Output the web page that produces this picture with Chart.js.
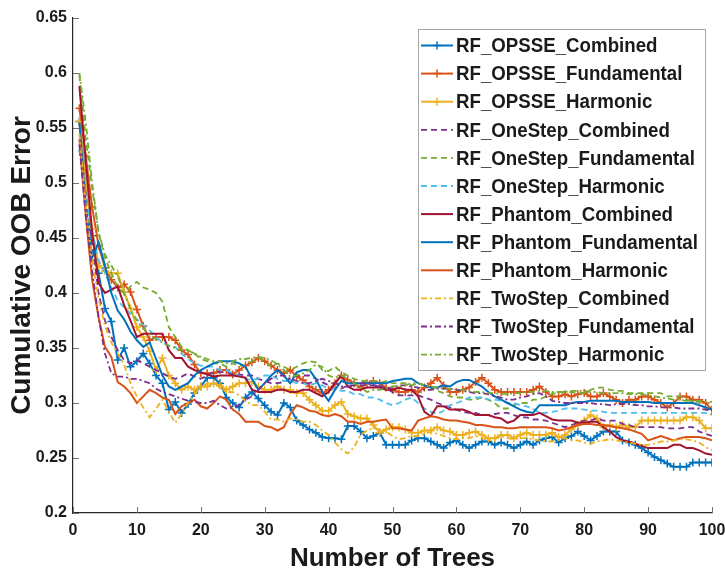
<!DOCTYPE html>
<html>
<head>
<meta charset="utf-8">
<script src="https://cdn.jsdelivr.net/npm/chart.js@4.4.0/dist/chart.umd.min.js"></script>
<style>
  html, body { margin: 0; padding: 0; background: #fff; }
  canvas { display: block; }
</style>
</head>
<body>
<canvas id="oobChart" width="725" height="574"></canvas>
<script>
// x positions: number of trees 1..100
const trees = [];
for (let i = 1; i <= 100; i++) trees.push(i);

const xTicks = [0, 10, 20, 30, 40, 50, 60, 70, 80, 90, 100];
const yTicks = [0.2, 0.25, 0.3, 0.35, 0.4, 0.45, 0.5, 0.55, 0.6, 0.65];

const seriesNames = [
    'RF_OPSSE_Combined', 'RF_OPSSE_Fundamental', 'RF_OPSSE_Harmonic',
    'RF_OneStep_Combined', 'RF_OneStep_Fundamental', 'RF_OneStep_Harmonic',
    'RF_Phantom_Combined', 'RF_Phantom_Fundamental', 'RF_Phantom_Harmonic',
    'RF_TwoStep_Combined', 'RF_TwoStep_Fundamental', 'RF_TwoStep_Harmonic'
];

// values (cumulative OOB error per tree)
const opsseCombined = [
    0.556, 0.505, 0.452, 0.418, 0.386, 0.374, 0.339, 0.350, 0.333, 0.338,
    0.345, 0.336, 0.325, 0.318, 0.294, 0.301, 0.291, 0.299, 0.309, 0.315,
    0.323, 0.323, 0.318, 0.305, 0.300, 0.296, 0.305, 0.310, 0.304, 0.298,
    0.292, 0.289, 0.300, 0.296, 0.284, 0.280, 0.276, 0.273, 0.269, 0.268,
    0.268, 0.267, 0.279, 0.279, 0.274, 0.268, 0.270, 0.273, 0.262, 0.262,
    0.262, 0.262, 0.266, 0.268, 0.268, 0.265, 0.262, 0.259, 0.264, 0.266,
    0.262, 0.259, 0.262, 0.265, 0.265, 0.262, 0.264, 0.262, 0.259, 0.262,
    0.265, 0.262, 0.266, 0.268, 0.269, 0.264, 0.268, 0.270, 0.274, 0.270,
    0.266, 0.270, 0.274, 0.274, 0.274, 0.266, 0.264, 0.262, 0.259, 0.255,
    0.251, 0.248, 0.245, 0.242, 0.242, 0.242, 0.246, 0.246, 0.246, 0.246
];
const opsseFundamental = [
    0.568, 0.524, 0.478, 0.443, 0.423, 0.412, 0.405, 0.408, 0.401, 0.385,
    0.370, 0.357, 0.360, 0.360, 0.360, 0.357, 0.348, 0.344, 0.335, 0.327,
    0.327, 0.327, 0.330, 0.330, 0.326, 0.330, 0.334, 0.337, 0.341, 0.338,
    0.334, 0.330, 0.327, 0.330, 0.324, 0.321, 0.315, 0.312, 0.309, 0.312,
    0.318, 0.325, 0.321, 0.318, 0.314, 0.318, 0.320, 0.318, 0.314, 0.312,
    0.310, 0.310, 0.312, 0.310, 0.314, 0.318, 0.323, 0.316, 0.310, 0.310,
    0.312, 0.314, 0.319, 0.323, 0.318, 0.312, 0.310, 0.310, 0.310, 0.310,
    0.310, 0.312, 0.315, 0.310, 0.306, 0.306, 0.308, 0.306, 0.308, 0.309,
    0.306, 0.306, 0.309, 0.306, 0.303, 0.300, 0.303, 0.303, 0.306, 0.306,
    0.303, 0.300, 0.296, 0.300, 0.306, 0.306, 0.303, 0.303, 0.300, 0.294
];
const opsseHarmonic = [
    0.556, 0.500, 0.458, 0.425, 0.420, 0.418, 0.418, 0.401, 0.386, 0.369,
    0.360, 0.347, 0.330, 0.341, 0.325, 0.318, 0.312, 0.315, 0.312, 0.315,
    0.315, 0.318, 0.316, 0.312, 0.315, 0.318, 0.318, 0.319, 0.315, 0.312,
    0.312, 0.315, 0.312, 0.312, 0.309, 0.309, 0.303, 0.298, 0.293, 0.293,
    0.298, 0.301, 0.290, 0.288, 0.286, 0.286, 0.280, 0.273, 0.276, 0.278,
    0.278, 0.276, 0.273, 0.273, 0.275, 0.275, 0.278, 0.275, 0.274, 0.271,
    0.271, 0.273, 0.274, 0.271, 0.268, 0.268, 0.271, 0.271, 0.268, 0.271,
    0.273, 0.271, 0.271, 0.271, 0.273, 0.269, 0.271, 0.276, 0.280, 0.284,
    0.289, 0.286, 0.278, 0.280, 0.278, 0.280, 0.278, 0.278, 0.284, 0.284,
    0.284, 0.284, 0.284, 0.284, 0.284, 0.287, 0.287, 0.284, 0.277, 0.277
];
const oneStepCombined = [
    0.530, 0.490, 0.445, 0.400, 0.375, 0.360, 0.348, 0.339, 0.336, 0.339,
    0.336, 0.333, 0.330, 0.327, 0.324, 0.322, 0.324, 0.327, 0.324, 0.322,
    0.325, 0.328, 0.328, 0.328, 0.326, 0.326, 0.325, 0.325, 0.322, 0.320,
    0.318, 0.318, 0.319, 0.322, 0.325, 0.325, 0.325, 0.322, 0.319, 0.316,
    0.313, 0.313, 0.316, 0.316, 0.316, 0.316, 0.316, 0.316, 0.313, 0.310,
    0.307, 0.307, 0.307, 0.307, 0.305, 0.303, 0.300, 0.298, 0.296, 0.294,
    0.292, 0.291, 0.291, 0.289, 0.289, 0.290, 0.291, 0.291, 0.289, 0.287,
    0.287, 0.285, 0.285, 0.284, 0.282, 0.280, 0.278, 0.280, 0.282, 0.284,
    0.284, 0.286, 0.284, 0.284, 0.284, 0.281, 0.280, 0.278, 0.278, 0.278,
    0.278, 0.278, 0.277, 0.277, 0.277, 0.278, 0.278, 0.274, 0.272, 0.270
];
const oneStepFundamental = [
    0.598, 0.540, 0.495, 0.455, 0.432, 0.418, 0.405, 0.400, 0.406, 0.410,
    0.405, 0.403, 0.400, 0.392, 0.369, 0.360, 0.351, 0.348, 0.345, 0.340,
    0.338, 0.336, 0.336, 0.333, 0.336, 0.334, 0.334, 0.338, 0.341, 0.338,
    0.333, 0.336, 0.333, 0.330, 0.333, 0.336, 0.338, 0.337, 0.330, 0.329,
    0.333, 0.328, 0.325, 0.322, 0.320, 0.320, 0.320, 0.318, 0.320, 0.318,
    0.318, 0.318, 0.316, 0.318, 0.316, 0.314, 0.311, 0.309, 0.306, 0.305,
    0.305, 0.303, 0.303, 0.305, 0.303, 0.300, 0.295, 0.295, 0.298, 0.300,
    0.300, 0.303, 0.303, 0.306, 0.308, 0.310, 0.310, 0.310, 0.309, 0.309,
    0.312, 0.314, 0.314, 0.312, 0.311, 0.311, 0.309, 0.309, 0.309, 0.309,
    0.309, 0.309, 0.306, 0.306, 0.306, 0.303, 0.301, 0.301, 0.295, 0.289
];
const oneStepHarmonic = [
    0.530, 0.488, 0.455, 0.430, 0.418, 0.405, 0.393, 0.387, 0.381, 0.376,
    0.371, 0.366, 0.360, 0.355, 0.352, 0.351, 0.345, 0.340, 0.336, 0.334,
    0.333, 0.333, 0.330, 0.330, 0.327, 0.325, 0.322, 0.321, 0.322, 0.325,
    0.325, 0.322, 0.320, 0.320, 0.318, 0.318, 0.316, 0.318, 0.316, 0.313,
    0.313, 0.311, 0.311, 0.308, 0.308, 0.305, 0.305, 0.303, 0.300, 0.298,
    0.300, 0.303, 0.305, 0.300, 0.295, 0.292, 0.290, 0.293, 0.298, 0.300,
    0.302, 0.305, 0.305, 0.305, 0.303, 0.303, 0.302, 0.300, 0.300, 0.298,
    0.297, 0.295, 0.291, 0.291, 0.292, 0.293, 0.295, 0.295, 0.295, 0.294,
    0.293, 0.293, 0.292, 0.291, 0.291, 0.291, 0.291, 0.291, 0.291, 0.291,
    0.291, 0.291, 0.291, 0.291, 0.291, 0.291, 0.291, 0.291, 0.291, 0.291
];
const phantomCombined = [
    0.588, 0.520, 0.455, 0.409, 0.400, 0.403, 0.406, 0.389, 0.375, 0.360,
    0.363, 0.363, 0.363, 0.363, 0.348, 0.341, 0.341, 0.333, 0.330, 0.328,
    0.326, 0.324, 0.325, 0.325, 0.325, 0.324, 0.323, 0.312, 0.310, 0.310,
    0.310, 0.312, 0.312, 0.310, 0.310, 0.312, 0.312, 0.309, 0.306, 0.310,
    0.318, 0.325, 0.315, 0.312, 0.312, 0.314, 0.314, 0.314, 0.312, 0.312,
    0.314, 0.312, 0.312, 0.306, 0.292, 0.288, 0.297, 0.297, 0.294, 0.294,
    0.294, 0.292, 0.289, 0.289, 0.289, 0.287, 0.286, 0.282, 0.284, 0.289,
    0.289, 0.289, 0.291, 0.288, 0.285, 0.284, 0.284, 0.284, 0.282, 0.282,
    0.283, 0.283, 0.278, 0.274, 0.269, 0.266, 0.265, 0.263, 0.261, 0.259,
    0.259, 0.259, 0.259, 0.262, 0.262, 0.259, 0.259, 0.257, 0.254, 0.253
];
const phantomFundamental = [
    0.555, 0.480, 0.432, 0.446, 0.425, 0.400, 0.384, 0.376, 0.365, 0.357,
    0.351, 0.355, 0.340, 0.325, 0.315, 0.312, 0.315, 0.318, 0.325, 0.330,
    0.333, 0.336, 0.338, 0.338, 0.338, 0.336, 0.333, 0.322, 0.312, 0.318,
    0.325, 0.330, 0.325, 0.318, 0.328, 0.330, 0.330, 0.322, 0.310, 0.302,
    0.312, 0.320, 0.318, 0.318, 0.318, 0.318, 0.318, 0.318, 0.318, 0.320,
    0.321, 0.322, 0.322, 0.318, 0.316, 0.314, 0.314, 0.316, 0.315, 0.319,
    0.321, 0.321, 0.318, 0.315, 0.310, 0.306, 0.303, 0.300, 0.297, 0.294,
    0.292, 0.291, 0.298, 0.298, 0.298, 0.298, 0.298, 0.300, 0.301, 0.301,
    0.302, 0.302, 0.302, 0.302, 0.302, 0.301, 0.301, 0.301, 0.301, 0.301,
    0.300, 0.300, 0.300, 0.300, 0.300, 0.300, 0.300, 0.298, 0.296, 0.294
];
const phantomHarmonic = [
    0.540, 0.470, 0.412, 0.378, 0.351, 0.342, 0.319, 0.315, 0.309, 0.300,
    0.306, 0.312, 0.309, 0.305, 0.303, 0.290, 0.297, 0.300, 0.303, 0.297,
    0.295, 0.300, 0.306, 0.303, 0.294, 0.290, 0.283, 0.283, 0.283, 0.279,
    0.278, 0.275, 0.278, 0.290, 0.298, 0.296, 0.293, 0.292, 0.289, 0.288,
    0.290, 0.288, 0.283, 0.283, 0.281, 0.283, 0.283, 0.284, 0.285, 0.277,
    0.277, 0.276, 0.275, 0.284, 0.286, 0.288, 0.287, 0.285, 0.284, 0.284,
    0.283, 0.282, 0.280, 0.280, 0.279, 0.278, 0.278, 0.277, 0.277, 0.278,
    0.278, 0.278, 0.278, 0.278, 0.277, 0.275, 0.276, 0.278, 0.280, 0.281,
    0.281, 0.280, 0.280, 0.279, 0.278, 0.277, 0.276, 0.274, 0.272, 0.266,
    0.268, 0.270, 0.268, 0.266, 0.268, 0.269, 0.269, 0.269, 0.268, 0.266
];
const twoStepCombined = [
    0.545, 0.480, 0.430, 0.395, 0.370, 0.355, 0.345, 0.335, 0.318, 0.306,
    0.296, 0.287, 0.295, 0.303, 0.292, 0.282, 0.290, 0.300, 0.308, 0.314,
    0.318, 0.318, 0.314, 0.310, 0.310, 0.307, 0.302, 0.298, 0.298, 0.292,
    0.285, 0.285, 0.283, 0.286, 0.285, 0.283, 0.283, 0.280, 0.275, 0.271,
    0.264, 0.258, 0.254, 0.260, 0.271, 0.275, 0.277, 0.276, 0.274, 0.270,
    0.267, 0.268, 0.270, 0.270, 0.272, 0.274, 0.272, 0.270, 0.268, 0.267,
    0.268, 0.268, 0.270, 0.268, 0.266, 0.267, 0.270, 0.268, 0.267, 0.268,
    0.268, 0.267, 0.266, 0.265, 0.265, 0.267, 0.268, 0.266, 0.266, 0.264,
    0.263, 0.265, 0.266, 0.267, 0.266, 0.265, 0.264, 0.263, 0.262, 0.262,
    0.263, 0.265, 0.265, 0.266, 0.267, 0.267, 0.266, 0.264, 0.260, 0.257
];
const twoStepFundamental = [
    0.535, 0.470, 0.420, 0.378, 0.345, 0.327, 0.324, 0.324, 0.322, 0.322,
    0.320, 0.318, 0.313, 0.310, 0.308, 0.306, 0.304, 0.302, 0.301, 0.300,
    0.300, 0.302, 0.298, 0.295, 0.296, 0.298, 0.303, 0.306, 0.312, 0.318,
    0.322, 0.325, 0.325, 0.322, 0.320, 0.318, 0.318, 0.320, 0.322, 0.320,
    0.318, 0.315, 0.315, 0.316, 0.318, 0.318, 0.316, 0.315, 0.313, 0.314,
    0.316, 0.316, 0.315, 0.314, 0.312, 0.312, 0.313, 0.313, 0.313, 0.312,
    0.311, 0.310, 0.309, 0.309, 0.308, 0.306, 0.305, 0.303, 0.303, 0.305,
    0.306, 0.308, 0.309, 0.306, 0.302, 0.301, 0.300, 0.300, 0.300, 0.300,
    0.300, 0.299, 0.299, 0.298, 0.299, 0.299, 0.299, 0.298, 0.298, 0.297,
    0.297, 0.296, 0.296, 0.296, 0.295, 0.295, 0.295, 0.295, 0.294, 0.293
];
const twoStepHarmonic = [
    0.600, 0.555, 0.500, 0.455, 0.435, 0.425, 0.415, 0.400, 0.385, 0.375,
    0.368, 0.362, 0.358, 0.355, 0.352, 0.350, 0.348, 0.348, 0.345, 0.342,
    0.340, 0.338, 0.338, 0.336, 0.338, 0.340, 0.340, 0.341, 0.342, 0.341,
    0.339, 0.335, 0.330, 0.324, 0.325, 0.327, 0.330, 0.335, 0.333, 0.325,
    0.323, 0.325, 0.322, 0.318, 0.314, 0.310, 0.312, 0.312, 0.313, 0.315,
    0.315, 0.316, 0.318, 0.318, 0.316, 0.315, 0.314, 0.313, 0.313, 0.312,
    0.312, 0.311, 0.310, 0.310, 0.309, 0.309, 0.308, 0.308, 0.309, 0.309,
    0.310, 0.310, 0.311, 0.311, 0.310, 0.310, 0.310, 0.311, 0.311, 0.311,
    0.310, 0.310, 0.309, 0.309, 0.309, 0.309, 0.308, 0.308, 0.308, 0.307,
    0.306, 0.305, 0.304, 0.303, 0.303, 0.302, 0.302, 0.302, 0.301, 0.301
];

const FONT = "'Liberation Sans', Arial, Helvetica, sans-serif";
const TEXT = '#1a1a1a';

// MATLAB default line colours
const colors = {
    blue: '#0072BD',
    orange: '#D95319',
    yellow: '#EDB120',
    purple: '#7E2F8E',
    green: '#77AC30',
    cyan: '#4DBEEE',
    red: '#A2142F'
};
const dashed = [6, 4];
const dashDot = [6, 3, 2, 3];

const seriesValues = [
    opsseCombined, opsseFundamental, opsseHarmonic,
    oneStepCombined, oneStepFundamental, oneStepHarmonic,
    phantomCombined, phantomFundamental, phantomHarmonic,
    twoStepCombined, twoStepFundamental, twoStepHarmonic
];
const seriesColors = [
    colors.blue, colors.orange, colors.yellow,
    colors.purple, colors.green, colors.cyan,
    colors.red, colors.blue, colors.orange,
    colors.yellow, colors.purple, colors.green
];
const seriesDash = [
    [], [], [],
    dashed, dashed, dashed,
    [], [], [],
    dashDot, dashDot, dashDot
];
const seriesMarker = [true, true, true, false, false, false, false, false, false, false, false, false];

const datasets = seriesNames.map((name, i) => ({
    label: name,
    data: seriesValues[i].map((v, k) => ({ x: trees[k], y: v })),
    borderColor: seriesColors[i],
    backgroundColor: seriesColors[i],
    borderWidth: seriesDash[i].length ? 1.8 : 2,
    borderDash: seriesDash[i],
    pointStyle: 'cross',
    pointRadius: seriesMarker[i] ? 4 : 0,
    pointBorderWidth: 1.5,
    pointHoverRadius: 0,
    tension: 0,
    fill: false,
    order: seriesNames.length - i   // later series drawn on top, like MATLAB
}));

// inward tick marks (MATLAB style)
const innerTicks = {
    id: 'innerTicks',
    afterDatasetsDraw(chart) {
        const { ctx, scales: { x, y } } = chart;
        ctx.save();
        ctx.strokeStyle = '#707070';
        ctx.lineWidth = 1;
        ctx.beginPath();
        xTicks.forEach(t => {
            const px = Math.round(x.getPixelForValue(t)) + 0.5;
            ctx.moveTo(px, y.bottom);
            ctx.lineTo(px, y.bottom - 6);
        });
        yTicks.forEach(t => {
            const py = Math.round(y.getPixelForValue(t)) + 0.5;
            ctx.moveTo(x.left, py);
            ctx.lineTo(x.left + 6, py);
        });
        ctx.stroke();
        ctx.restore();
    }
};

// legend box in the upper right of the axes
const legendBox = {
    id: 'legendBox',
    afterDraw(chart) {
        const ctx = chart.ctx;
        const bx = 418, by = 29, bw = 287, bh = 341;
        const firstRow = 45.5, rowStep = 28.1;
        ctx.save();
        ctx.fillStyle = '#ffffff';
        ctx.fillRect(bx, by, bw, bh);
        ctx.strokeStyle = '#a6a6a6';
        ctx.lineWidth = 1;
        ctx.strokeRect(bx + 0.5, by + 0.5, bw, bh);
        chart.data.datasets.forEach((ds, i) => {
            const ry = firstRow + i * rowStep;
            ctx.strokeStyle = ds.borderColor;
            ctx.lineWidth = ds.borderWidth;
            ctx.setLineDash(ds.borderDash);
            ctx.beginPath();
            ctx.moveTo(421, ry);
            ctx.lineTo(453, ry);
            ctx.stroke();
            ctx.setLineDash([]);
            if (ds.pointRadius > 0) {
                ctx.lineWidth = 1.5;
                ctx.beginPath();
                ctx.moveTo(437, ry - 4);
                ctx.lineTo(437, ry + 4);
                ctx.moveTo(433, ry);
                ctx.lineTo(441, ry);
                ctx.stroke();
            }
            // the figure's text is slightly condensed
            ctx.save();
            ctx.translate(456, ry + 1);
            ctx.scale(0.89, 1);
            ctx.fillStyle = TEXT;
            ctx.font = 'bold 21px ' + FONT;
            ctx.textBaseline = 'middle';
            ctx.textAlign = 'left';
            ctx.fillText(ds.label, 0, 0);
            ctx.restore();
        });
        ctx.restore();
    }
};

const ctx = document.getElementById('oobChart').getContext('2d');
const oobChart = new Chart(ctx, {
    type: 'line',
    data: { datasets: datasets },
    options: {
        responsive: false,
        animation: false,
        devicePixelRatio: 1,
        layout: { padding: { top: 18, right: 13, left: 0, bottom: 0 } },
        plugins: {
            legend: { display: false },
            tooltip: { enabled: false }
        },
        scales: {
            x: {
                type: 'linear',
                min: 0,
                max: 100,
                afterBuildTicks: scale => { scale.ticks = xTicks.map(v => ({ value: v })); },
                afterFit: scale => {
                    scale.height = 61;
                    scale.paddingLeft = 0;
                    scale.paddingRight = 0;
                },
                grid: { display: false, drawTicks: false },
                border: { display: true, color: '#262626', width: 1.2 },
                ticks: {
                    color: TEXT,
                    padding: 8,
                    maxRotation: 0,
                    autoSkip: false,
                    font: { family: FONT, size: 16, weight: 'bold' }
                },
                title: {
                    display: true,
                    text: 'Number of Trees',
                    color: TEXT,
                    padding: { top: 0, bottom: 0 },
                    font: { family: FONT, size: 26, weight: 'bold' }
                }
            },
            y: {
                type: 'linear',
                min: 0.2,
                max: 0.65,
                afterBuildTicks: scale => { scale.ticks = yTicks.map(v => ({ value: v })); },
                afterFit: scale => {
                    scale.width = 73;
                    scale.paddingTop = 0;
                    scale.paddingBottom = 0;
                },
                grid: { display: false, drawTicks: false },
                border: { display: true, color: '#262626', width: 1.2 },
                ticks: {
                    color: TEXT,
                    padding: 6,
                    autoSkip: false,
                    font: { family: FONT, size: 16, weight: 'bold' },
                    callback: v => String(parseFloat(v.toFixed(2)))
                },
                title: {
                    display: true,
                    text: 'Cumulative OOB Error',
                    color: TEXT,
                    padding: { top: 5, bottom: 0 },
                    font: { family: FONT, size: 28, weight: 'bold' }
                }
            }
        }
    },
    plugins: [innerTicks, legendBox]
});
</script>
</body>
</html>
